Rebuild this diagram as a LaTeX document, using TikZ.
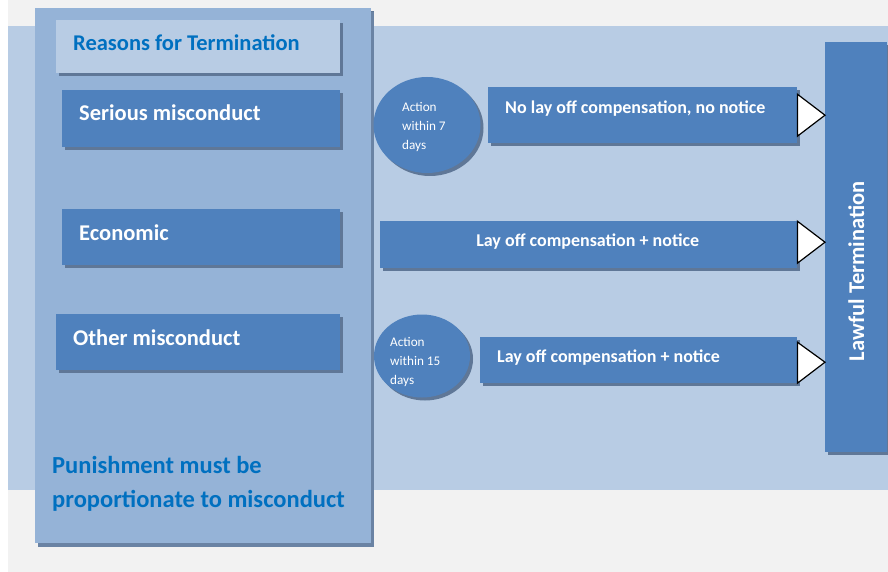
\documentclass[tikz,border=0pt]{standalone}
\usepackage{fontspec}
\setmainfont{Carlito}
\usetikzlibrary{shadows,calc,shapes.geometric}
\definecolor{bgg}{HTML}{F2F2F2}
\definecolor{band}{HTML}{B8CCE4}
\definecolor{panel}{HTML}{95B3D7}
\definecolor{boxb}{HTML}{4F81BD}
\definecolor{tblue}{HTML}{0070C0}
\definecolor{shad}{HTML}{5F7797}
\begin{document}
\begin{tikzpicture}[x=1pt,y=-1pt,
  sh/.style={drop shadow={shadow xshift=3pt,shadow yshift=-3pt,fill=shad,opacity=1}},
  rbox/.style={sh,fill=boxb,draw=none,inner sep=0pt,anchor=north west},
  bigtxt/.style={font=\bfseries\fontsize{22.5}{26}\selectfont,text=white,inner sep=0pt,anchor=west},
  midtxt/.style={font=\bfseries\fontsize{18}{21}\selectfont,text=white,inner sep=0pt,anchor=west},
  smalltxt/.style={font=\fontsize{13.2}{19}\selectfont,text=white,inner sep=0pt,align=left,anchor=north west},
  bluetxt/.style={font=\bfseries\fontsize{24.5}{34}\selectfont,text=tblue,inner sep=0pt,align=left,anchor=north west},
  circ/.style={sh,ellipse,fill=boxb,draw=none,inner sep=0pt},
  tri/.style={draw=black,fill=white,line width=1.2pt,line join=miter}]
\useasboundingbox (0,0) rectangle (888,572);
\fill[white] (0,0) rectangle (888,572);
\fill[bgg] (8,0) rectangle (888,572);
\fill[band] (8,26) rectangle (888,490);
% left panel
\node[rbox,fill=panel,minimum width=336,minimum height=535,drop shadow={shadow xshift=3pt,shadow yshift=-4pt,fill=shad!80!panel,opacity=1}] (panel) at (35,8) {};
% title box
\node[rbox,fill=band,minimum width=284,minimum height=53] (title) at (56,20) {};
\node[bigtxt,text=tblue] (titleT) at ($(title.west)+(17,-4)$) {Reasons for Termination};
% reason boxes
\node[rbox,minimum width=278,minimum height=57] (serious) at (62,90) {};
\node[bigtxt] (seriousT) at ($(serious.west)+(17,-6)$) {Serious misconduct};
\node[rbox,minimum width=278,minimum height=56] (econ) at (62,209) {};
\node[bigtxt] (econT) at ($(econ.west)+(17,-5)$) {Economic};
\node[rbox,minimum width=284,minimum height=56] (other) at (56,314) {};
\node[bigtxt] (otherT) at ($(other.west)+(17,-5)$) {Other misconduct};
% bottom text
\node[bluetxt] (punish) at (52,456) {Punishment must be\\proportionate to misconduct};
% circles
\node[circ,minimum width=107,minimum height=96] (c1) at (427,125) {};
\node[smalltxt] (c1T) at (402,102.5) {Action\\within 7\\days};
\node[circ,minimum width=96,minimum height=83] (c2) at (422,356) {};
\node[smalltxt] (c2T) at (390,337) {Action\\within 15\\days};
% outcome boxes
\node[rbox,minimum width=309,minimum height=56] (nolay) at (488,87) {};
\node[midtxt] (nolayT) at ($(nolay.west)+(17,-7)$) {No lay off compensation, no notice};
\node[rbox,minimum width=417,minimum height=47] (lay1) at (380,221) {};
\node[midtxt,anchor=center] (lay1T) at ($(lay1.center)+(-1,-3)$) {Lay off compensation + notice};
\node[rbox,minimum width=317,minimum height=46] (lay2) at (480,337) {};
\node[midtxt] (lay2T) at ($(lay2.west)+(17,-3)$) {Lay off compensation + notice};
% lawful termination bar
\node[rbox,minimum width=62,minimum height=410] (bar) at (825,42) {};
\node[font=\bfseries\fontsize{22.5}{26}\selectfont,text=white,rotate=90,inner sep=0pt] (barT) at ($(bar.center)+(0,24)$) {Lawful Termination};
% arrow triangles
\draw[tri] ($(nolay.east)+(0,-21)$) -- ($(nolay.east)+(0,21)$) -- (nolay.east -| bar.west) -- cycle;
\draw[tri] ($(lay1.east)+(0,-23.5)$) -- ($(lay1.east)+(0,18.5)$) -- ($(lay1.east -| bar.west)+(0,-2.5)$) -- cycle;
\draw[tri] ($(lay2.east)+(0,-18)$) -- ($(lay2.east)+(0,23)$) -- ($(lay2.east -| bar.west)+(0,2)$) -- cycle;
\end{tikzpicture}
\end{document}
